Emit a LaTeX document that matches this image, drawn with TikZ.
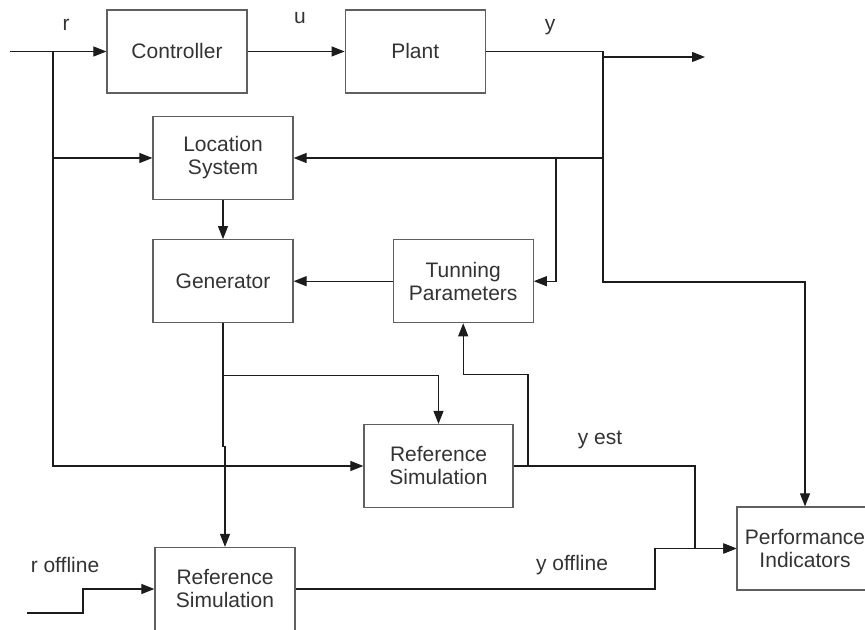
\documentclass[tikz,border=0pt]{standalone}
\usepackage{fontspec}
\setmainfont{Liberation Sans}
\usepackage{tikz}
\usetikzlibrary{arrows.meta, calc, positioning}
\usepackage{xcolor}
\definecolor{LineBlack}{HTML}{1C1C1C}
\definecolor{BoxGray}{HTML}{606060}
\definecolor{TextGray}{HTML}{333333}
\tikzset{%
  block/.style={%
    rectangle,
    minimum width=70pt,
    minimum height=41.5pt,
    inner sep=0pt,
    line width=0.6pt,
    draw=BoxGray,
    text=TextGray,
    font={\fontsize{10.5}{11.5}\selectfont},
    align=center%
  },
  annotate/.style={%
    text=TextGray,
    font={\fontsize{10.5}{11.5}\selectfont},
  },
  signal/.style={%
    color=LineBlack,
    line width=0.55pt,
  },
  arrow/.style={-{Triangle[length=6.5pt, width=5pt]}}
}

\begin{document}
\begin{tikzpicture}[x=0.5pt, y=0.5pt]
    \useasboundingbox (0,0) rectangle (865,630);

    \node [block] (Controller) at (177,578.5) {Controller};
    \node [block, right=97 of Controller] (Plant) {Plant};
    \node [block] (Location) at (223,472) {Location\\System};
    \node [block, below=39 of Location] (Generator) {Generator};
    \node [block, right=99 of Generator] (Tunning) {Tunning\\Parameters};
    \node [block, minimum width=74.5pt] (RefSimOnline) at (438.5,164) {Reference\\Simulation};
    \node [block, minimum width=68pt] (Indicators) at (805,81.5) {Performance\\Indicators};
    \node [block] (RefSimOffline) at (225,41) {Reference\\Simulation};

    \coordinate (Input) at (10,578.5);
    \coordinate (Tap) at (53,578.5);
    \coordinate (Branch) at (603,578.5);
    \coordinate (Output) at (705,573);
    \coordinate (Feedback) at (556,472);
    \coordinate (Split) at (603,348);
    \coordinate (GenSplit) at ($(Generator.south)+(0,-52)$);
    \coordinate (GenJog) at ($(GenSplit)+(0,-71)$);
    \coordinate (EstTap) at (528,164);
    \coordinate (EstCorner) at (695,164);
    \coordinate (OffCorner) at (655,41);
    \coordinate (OfflineIn) at (27,17);
    \coordinate (OfflineStep) at (83,17);

    \node [annotate] (LabelR) at (66,605) {r};
    \node [annotate] (LabelU) at (300,612) {u};
    \node [annotate] (LabelY) at (550,603) {y};
    \node [annotate] (LabelYEst) at (600,190) {y est};
    \node [annotate] (LabelYOff) at (572,65) {y offline};
    \node [annotate] (LabelROff) at (65,65) {r offline};

    % loop
    \draw [arrow, signal]
      (Input) -- (Controller.west);
    \draw [signal, line width=1pt]
      (Tap) -- ++(0,-41);
    \draw [arrow, signal]
      (Tap) |- (RefSimOnline.west);
    \draw [arrow, signal]
      (Tap |- Location.west) -- (Location.west);
    \draw [arrow, signal]
      (Controller.east) -- (Plant.west);
    \draw [signal]
      (Plant.east) -- (Branch);
    \draw [arrow, signal]
      (Branch |- Output) -- (Output);

    % estimation
    \draw [arrow, signal]
      (Branch) |- (Location.east);
    \draw [arrow, signal]
      (Feedback) |- (Tunning.east);
    \draw [arrow, signal]
      (Branch) -- (Split) -| (Indicators.north);
    \draw [arrow, signal]
      (Tunning.west) -- (Generator.east);
    \draw [arrow, signal]
      (Location.south) -- (Generator.north);
    \draw [arrow, signal]
      (Generator.south) -- (GenSplit) -| (RefSimOnline.north);
    \draw [arrow, signal]
      (GenSplit) -- (GenJog) -| (RefSimOffline.north);
    \draw [arrow, signal]
      (RefSimOnline.east) -- (EstCorner) |- (Indicators.west);
    \draw [arrow, signal]
      (EstTap) |- ($(Tunning.south)+(0,-51.5)$) -- (Tunning.south);

    % offline
    \draw [arrow, signal]
      (OfflineIn) -- (OfflineStep) |- (RefSimOffline.west);
    \draw [arrow, signal]
      (RefSimOffline.east) -- (OffCorner) |- (Indicators.west);
  \end{tikzpicture}
\end{document}
